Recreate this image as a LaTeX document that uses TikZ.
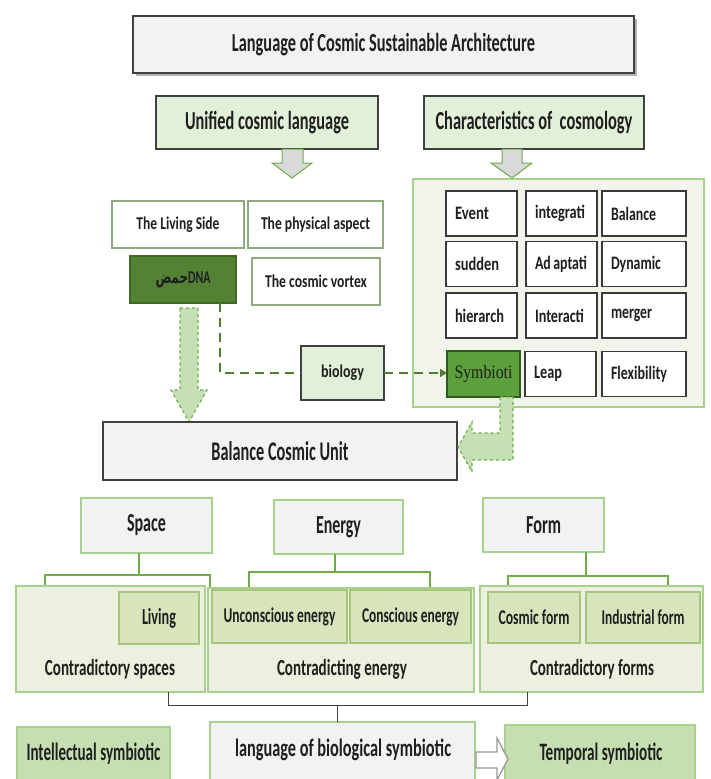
\documentclass[tikz,border=0pt]{standalone}
\usepackage{fontspec}
\usepackage{graphicx}
\setmainfont{Carlito}
\newfontfamily\arabicfont[Script=Arabic]{DejaVu Sans}
\newfontfamily\timesfont{Liberation Serif}
\TeXXeTstate=1
\usetikzlibrary{arrows.meta}
\definecolor{gfill}{HTML}{F2F2F2}
\definecolor{dgrey}{HTML}{404040}
\definecolor{lgfill}{HTML}{E2EFD9}
\definecolor{wbord}{HTML}{8FAA80}
\definecolor{cellb}{HTML}{3A3A3A}
\definecolor{symfill}{HTML}{5CA03C}
\definecolor{symbord}{HTML}{2F5A1E}
\definecolor{dnafill}{HTML}{548235}
\definecolor{dnabord}{HTML}{3E6A27}
\definecolor{lgreen}{HTML}{A9D18E}
\definecolor{cfill}{HTML}{EBF1DE}
\definecolor{ifill}{HTML}{D8E4BC}
\definecolor{ibord}{HTML}{A8C47E}
\definecolor{mgreen}{HTML}{70AD47}
\definecolor{hfill}{HTML}{C5E0B4}
\definecolor{dgreen}{HTML}{4E7F2E}
\definecolor{confill}{HTML}{F0F4EB}
\definecolor{arrgrey}{HTML}{D9D9D9}
\definecolor{botfill}{HTML}{C5DFB3}
\newcommand\tw[3]{{\fontsize{#1pt}{#1pt}\selectfont\bfseries\resizebox{#2pt}{\height}{#3}}}
\begin{document}
\begin{tikzpicture}[x=1pt,y=-1pt,
  every node/.style={inner sep=0pt, outer sep=0pt, text=black!88},
  darkbox/.style={draw=dgrey, line width=1.6pt, fill=gfill},
  headbox/.style={draw=dgrey, line width=1.4pt, fill=lgfill},
  wbox/.style={draw=wbord, line width=1.1pt, fill=white},
  cellbox/.style={draw=cellb, line width=1.4pt, fill=white, align=left, inner xsep=9pt, inner ysep=0pt, minimum height=45pt},
  catbox/.style={draw=lgreen, line width=1.5pt, fill=gfill},
  contbox/.style={draw=lgreen, line width=2pt, fill=cfill},
  innerbox/.style={draw=ibord, line width=2pt, fill=ifill},
  conn/.style={draw=mgreen, line width=2pt},
  bracket/.style={draw=dgrey, line width=1pt},
  hollow/.style={fill=hfill, draw=mgreen, dashed, line width=1.2pt},
  topar/.style={fill=arrgrey, draw=mgreen, line width=1pt},
  dline/.style={draw=dgreen, line width=2.4pt, dash pattern=on 9pt off 6pt},
  botbox/.style={draw=lgreen, line width=1.5pt, fill=botfill}
]
\clip (0,0) rectangle (710,779);
\fill[white] (0,0) rectangle (710,779);

% title
\fill[gray!60] (136,19) rectangle (637,76);
\node[darkbox, minimum width=501pt, minimum height=57pt] (title) at (383.5,44.5) {\tw{26}{303}{Language of Cosmic Sustainable Architecture}};

\node[headbox, minimum width=222pt, minimum height=53pt] (unified) at (267,122.5) {\tw{26}{164}{Unified cosmic language}};
\node[headbox, minimum width=220pt, minimum height=53pt] (charac) at (534,122.5) {\tw{26}{197}{Characteristics of\ \ cosmology}};

\draw[topar] (282,149) -- (303,149) -- (303,163) -- (312,163) -- (292,178) -- (272,163) -- (282,163) -- cycle;
\draw[topar] (502,149) -- (522,149) -- (522,163) -- (532,163) -- (512,178) -- (491,163) -- (502,163) -- cycle;

% container
\node[draw=lgreen, line width=1.2pt, fill=confill, minimum width=291pt, minimum height=228pt] (cont) at (558.5,293) {};

% cells
\node[cellbox, text width=53pt] (c11) at (481.5,213.5) {\tw{19}{34}{Event}};
\node[cellbox, text width=53pt] (c12) at (561.5,213.5) {\tw{19}{50}{integrati}};
\node[cellbox, text width=66pt] (c13) at (644,213.5) {\tw{19}{45}{Balance}};
\node[cellbox, text width=53pt] (c21) at (481.5,264) {\tw{19}{44}{sudden}};
\node[cellbox, text width=53pt] (c22) at (561.5,264) {\tw{19}{52}{Ad aptati}};
\node[cellbox, text width=66pt] (c23) at (644,264) {\tw{19}{50}{Dynamic}};
\node[cellbox, text width=53pt] (c31) at (481.5,315.5) {\tw{19}{49}{hierarch}};
\node[cellbox, text width=53pt] (c32) at (561.5,315.5) {\tw{19}{49}{Interacti}};
\node[cellbox, text width=66pt] (c33) at (644,315.5) {\tw{19}{41}{merger}};
\node[draw=symbord, line width=1.4pt, fill=symfill, minimum width=73pt, minimum height=46pt] (sym) at (483.5,374) {{\timesfont\fontsize{19pt}{19pt}\selectfont\resizebox{58pt}{\height}{Symbioti}}};
\node[cellbox, text width=53pt] (c42) at (560.5,374) {\tw{19}{28}{Leap}};
\node[cellbox, text width=66pt] (c43) at (644,374) {\tw{19}{56}{Flexibility}};

% left group
\node[wbox, minimum width=132pt, minimum height=47pt] (living) at (178,224.5) {\tw{18}{83}{The Living Side}};
\node[wbox, minimum width=135pt, minimum height=47pt] (phys) at (315.5,224.5) {\tw{18}{109}{The physical aspect}};
\node[draw=dnabord, line width=1.2pt, fill=dnafill, minimum width=106pt, minimum height=47pt] (dna) at (183,279.5) {\tw{18}{55}{{\arabicfont\beginR حمض\endR}DNA}};
\node[wbox, minimum width=128pt, minimum height=47pt] (vortex) at (316,281.5) {\tw{18}{102}{The cosmic vortex}};

\node[headbox, line width=1.3pt, minimum width=83pt, minimum height=54pt] (bio) at (342.5,373) {\tw{18}{43}{biology}};

\draw[dline] ([xshift=37pt]dna.south) |- (bio.west);
\draw[dline, -{Triangle[length=7pt,width=8pt]}] (bio.east) -- (bio.east -| sym.west);

% hollow arrows
\draw[hollow] (180,308) -- (198,308) -- (198,390) -- (207,390) -- (189,422) -- (171,390) -- (180,390) -- cycle;

\node[darkbox, line width=2pt, minimum width=354pt, minimum height=58pt] (balance) at (280,451) {\tw{27}{137}{Balance Cosmic Unit}};

\draw[hollow] (500,397) -- (513,397) -- (513,460) -- (472,460) -- (472,472) -- (458,447) -- (472,422) -- (472,433) -- (500,433) -- cycle;

% categories
\node[catbox, minimum width=131pt, minimum height=55pt] (space) at (146.5,525.5) {\tw{26}{39}{Space}};
\node[catbox, minimum width=129pt, minimum height=54pt] (energy) at (338.5,527) {\tw{26}{45}{Energy}};
\node[catbox, minimum width=121pt, minimum height=54pt] (form) at (543.5,525) {\tw{26}{35}{Form}};

\draw[conn] ([xshift=-7.5pt]space.south) -- ++(0,22);
\draw[conn] (45,588) -- (45,575) -- (210,575) -- (210,588);
\draw[conn] ([xshift=-3.5pt]energy.south) -- ++(0,18);
\draw[conn] (249,589) -- (249,572) -- (430,572) -- (430,589);
\draw[conn] ([xshift=42.5pt]form.south) -- ++(0,24);
\draw[conn] (508,588) -- (508,576) -- (668,576) -- (668,588);

% containers
\node[contbox, minimum width=189pt, minimum height=106pt] (scont) at (110.5,639) {};
\node[contbox, minimum width=266pt, minimum height=104pt] (econt) at (341,640) {};
\node[contbox, minimum width=223pt, minimum height=106pt] (fcont) at (591.5,639) {};

\node[innerbox, minimum width=80pt, minimum height=52pt] (livingb) at (159,618) {\tw{23}{34}{Living}};
\node[innerbox, minimum width=135pt, minimum height=53pt] (uncon) at (279.5,616.5) {\tw{21}{112}{Unconscious energy}};
\node[innerbox, minimum width=121pt, minimum height=53pt] (con) at (410.5,616.5) {\tw{21}{97}{Conscious energy}};
\node[innerbox, minimum width=92pt, minimum height=51pt] (cosf) at (534,617.5) {\tw{21}{71}{Cosmic form}};
\node[innerbox, minimum width=114pt, minimum height=51pt] (indf) at (643,617.5) {\tw{21}{83}{Industrial form}};

\node (slab) at (110,669) {\tw{23}{130}{Contradictory spaces}};
\node (elab) at (342,669) {\tw{23}{130}{Contradicting energy}};
\node (flab) at (592,669) {\tw{23}{124}{Contradictory forms}};

% bracket
\draw[bracket] ([xshift=57.5pt]scont.south) -- (168,705) -- (527,705) -- ([xshift=-64.5pt]fcont.south);
\coordinate (bmid) at (337,705);

% bottom row
\node[botbox, minimum width=153pt, minimum height=70pt] (intel) at (93.5,762) {};
\node (intellab) at (93.5,754) {\tw{25}{134}{Intellectual symbiotic}};
\node[draw=lgreen, line width=1.5pt, fill=gfill, minimum width=265pt, minimum height=75pt] (lang) at (342.5,759.5) {};
\node (langlab) at (343,750) {\tw{25}{216}{language of biological symbiotic}};
\node[botbox, minimum width=190pt, minimum height=70pt] (temp) at (600,760) {};
\node (templab) at (601,754) {\tw{25}{123}{Temporal symbiotic}};

\draw[bracket] (bmid) -- (bmid |- lang.north);

\draw[fill=white, draw=gray!80, line width=1.3pt] (476,752) -- (497,752) -- (497,738) -- (508,759) -- (497,780) -- (497,768) -- (476,768) -- cycle;
\end{tikzpicture}
\end{document}
